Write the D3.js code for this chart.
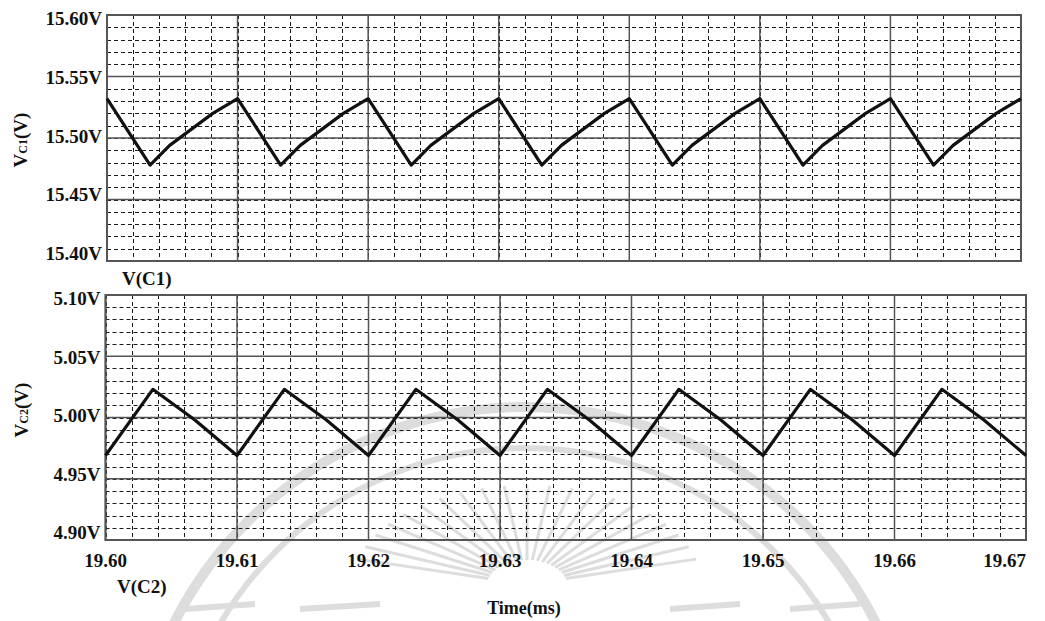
<!DOCTYPE html>
<html>
<head>
<meta charset="utf-8">
<script src="https://cdn.jsdelivr.net/npm/d3@7"></script>
<style>
  body { margin: 0; background: #fff; }
  text { font-family: "Liberation Serif", "Times New Roman", serif; font-weight: bold; fill: #111; }
</style>
</head>
<body>
<svg id="chart" width="1045" height="621"></svg>
<script>
// time axis (ms)
const timeTicks = [19.60, 19.61, 19.62, 19.63, 19.64, 19.65, 19.66, 19.67];

// V(C1) waveform
const c1Time = [19.6000, 19.6033, 19.6048, 19.6081, 19.6100, 19.6133, 19.6148, 19.6181,
                19.6200, 19.6233, 19.6248, 19.6281, 19.6300, 19.6333, 19.6348, 19.6381,
                19.6400, 19.6433, 19.6448, 19.6481, 19.6500, 19.6533, 19.6548, 19.6581,
                19.6600, 19.6633, 19.6648, 19.6681, 19.6700];
const c1Volts = [15.532, 15.478, 15.494, 15.520, 15.532, 15.478, 15.494, 15.520,
                 15.532, 15.478, 15.494, 15.520, 15.532, 15.478, 15.494, 15.520,
                 15.532, 15.478, 15.494, 15.520, 15.532, 15.478, 15.494, 15.520,
                 15.532, 15.478, 15.494, 15.520, 15.532];
const c1Ticks = [15.40, 15.45, 15.50, 15.55, 15.60];

// V(C2) waveform
const c2Time = [19.6000, 19.6036, 19.6068, 19.6100, 19.6136, 19.6168, 19.6200, 19.6236,
                19.6268, 19.6300, 19.6336, 19.6368, 19.6400, 19.6436, 19.6468, 19.6500,
                19.6536, 19.6568, 19.6600, 19.6636, 19.6668, 19.6700];
const c2Volts = [4.969, 5.023, 4.998, 4.969, 5.023, 4.998, 4.969, 5.023,
                 4.998, 4.969, 5.023, 4.998, 4.969, 5.023, 4.998, 4.969,
                 5.023, 4.998, 4.969, 5.023, 4.998, 4.969];
const c2Ticks = [4.90, 4.95, 5.00, 5.05, 5.10];

const svg = d3.select("#chart");
const snap = v => Math.round(v) + 0.5;

// faint watermark behind everything
let wm = svg.append("g").attr("fill", "none").attr("stroke", "#dddddd");
wm.append("circle").attr("cx", 525).attr("cy", 800).attr("r", 393).attr("stroke-width", 10);
wm.append("circle").attr("cx", 525).attr("cy", 800).attr("r", 352).attr("stroke-width", 6);
for (let a = -165; a <= -15; a += 7.5) {
    let r = a * Math.PI / 180;
    wm.append("line")
        .attr("x1", 527 + 40 * Math.cos(r)).attr("y1", 585 + 25 * Math.sin(r))
        .attr("x2", 527 + 175 * Math.cos(r)).attr("y2", 585 + 100 * Math.sin(r))
        .attr("stroke-width", 3);
}
[[185, 255], [300, 380], [670, 740], [790, 860]].forEach(function(s) {
    wm.append("line").attr("x1", s[0]).attr("x2", s[1]).attr("y1", 609).attr("y2", 604).attr("stroke-width", 6);
});

function drawPanel(opts) {
    let x = d3.scaleLinear().domain([19.60, 19.67]).range([opts.left, opts.right]);
    let lo = opts.ticks[0], hi = opts.ticks[opts.ticks.length - 1];
    let y = d3.scaleLinear().domain([lo, hi]).range([opts.bottom, opts.top]);
    // tick labels sit on a slightly tighter ladder than the grid
    let yLabel = d3.scaleLinear().domain([lo, hi]).range([opts.bottom - 1, opts.top + 10]);
    let g = svg.append("g");

    // minor dashed grid
    g.append("g").selectAll("line").data(x.ticks(35)).enter().append("line")
        .attr("x1", d => snap(x(d))).attr("x2", d => snap(x(d)))
        .attr("y1", opts.top).attr("y2", opts.bottom)
        .attr("stroke", "#1a1a1a").attr("stroke-width", 1).attr("stroke-dasharray", "4,3");
    g.append("g").selectAll("line").data(y.ticks(20)).enter().append("line")
        .attr("y1", d => snap(y(d))).attr("y2", d => snap(y(d)))
        .attr("x1", opts.left).attr("x2", opts.right)
        .attr("stroke", "#1a1a1a").attr("stroke-width", 1).attr("stroke-dasharray", "4,3");

    // major solid grid
    g.append("g").selectAll("line").data(timeTicks).enter().append("line")
        .attr("x1", d => x(d)).attr("x2", d => x(d))
        .attr("y1", opts.top).attr("y2", opts.bottom)
        .attr("stroke", "#555").attr("stroke-width", 1.5);
    g.append("g").selectAll("line").data(opts.ticks).enter().append("line")
        .attr("y1", d => y(d)).attr("y2", d => y(d))
        .attr("x1", opts.left).attr("x2", opts.right)
        .attr("stroke", "#555").attr("stroke-width", 1.5);

    g.append("rect")
        .attr("x", opts.left).attr("y", opts.top)
        .attr("width", opts.right - opts.left).attr("height", opts.bottom - opts.top)
        .attr("fill", "none").attr("stroke", "#555").attr("stroke-width", 2);

    // y tick labels
    g.append("g").selectAll("text").data(opts.ticks).enter().append("text")
        .attr("x", opts.left - 5).attr("y", d => yLabel(d))
        .attr("text-anchor", "end").style("font-size", "19px")
        .text(d => d3.format(".2f")(d) + "V");

    // waveform
    let pts = opts.time.map((t, i) => [t, opts.volts[i]]);
    g.append("path").datum(pts)
        .attr("fill", "none").attr("stroke", "#111").attr("stroke-width", 3.2)
        .attr("stroke-linejoin", "round")
        .attr("d", d3.line().x(d => x(d[0])).y(d => y(d[1])));

    // axis title (rotated)
    let t = g.append("text")
        .attr("transform", "translate(" + opts.titleX + "," + opts.titleY + ") rotate(-90)")
        .attr("text-anchor", "middle").style("font-size", "19px");
    t.append("tspan").text("V");
    t.append("tspan").style("font-size", "12px").text(opts.sub);
    t.append("tspan").text("(V)");

    g.append("text").attr("x", opts.nameX).attr("y", opts.nameY)
        .style("font-size", "19px").text(opts.name);

    return x;
}

drawPanel({
    left: 107, right: 1021, top: 15, bottom: 261,
    ticks: c1Ticks, time: c1Time, volts: c1Volts,
    sub: "C1", titleX: 27, titleY: 140, name: "V(C1)", nameX: 122, nameY: 285
});

let xBottom = drawPanel({
    left: 105.5, right: 1026, top: 295, bottom: 540,
    ticks: c2Ticks, time: c2Time, volts: c2Volts,
    sub: "C2", titleX: 28, titleY: 410, name: "V(C2)", nameX: 117, nameY: 593
});

// time tick labels under the lower panel (last one pulled in so it stays on the page)
svg.append("g").selectAll("text").data(timeTicks).enter().append("text")
    .attr("x", d => Math.min(xBottom(d), 1043))
    .attr("y", 567)
    .attr("text-anchor", d => xBottom(d) > 1043 - 22 ? "end" : "middle")
    .style("font-size", "19px")
    .text(d => d3.format(".2f")(d));

svg.append("text").attr("x", 524).attr("y", 614)
    .attr("text-anchor", "middle").style("font-size", "18px")
    .text("Time(ms)");
</script>
</body>
</html>
